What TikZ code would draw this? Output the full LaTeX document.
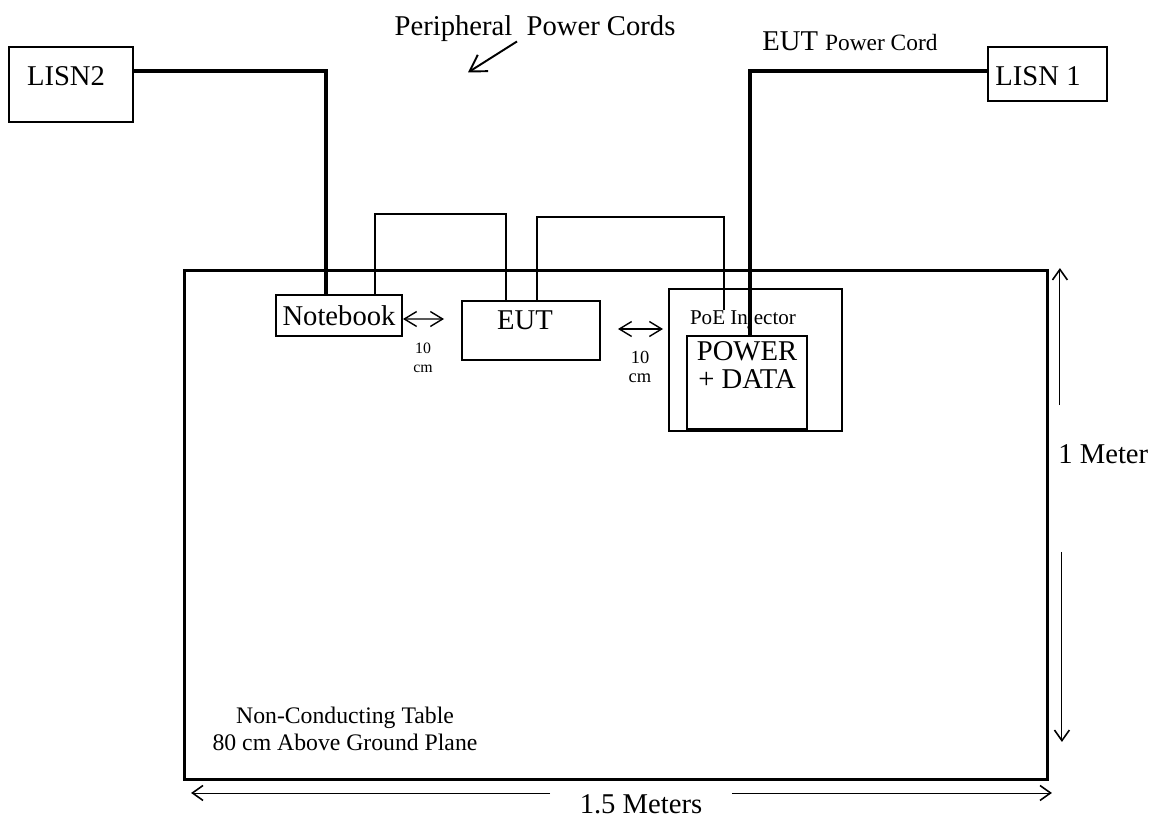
\documentclass[tikz,border=0pt]{standalone}
\usepackage{fontspec}
\setmainfont{Liberation Serif}
\usetikzlibrary{arrows.meta,calc}

\begin{document}
\begin{tikzpicture}[
  x=0.02cm, y=-0.02cm,
  font=\fontsize{16.3}{16.4}\selectfont,
  box/.style={draw, line width=0.6pt, inner sep=0pt, outer sep=0pt},
  txt/.style={inner sep=0pt},
  pcord/.style={line width=1.8pt},
  dcable/.style={line width=1.1pt},
  dim/.style={line width=0.5pt,
              -{Straight Barb[length=6pt,width=8.5pt,line width=0.9pt]}},
  gap/.style={line width=0.6pt,
              {Straight Barb[length=7pt,width=8.5pt,line width=0.8pt]}-{Straight Barb[length=7pt,width=8.5pt,line width=0.8pt]}}
]
\useasboundingbox (0,0) rectangle (1152,818);

%─── Table ────────────────────────────────────────────────────────────────
\node[box, line width=1.7pt, minimum width=17.28cm, minimum height=10.2cm]
  (table) at (616,525) {};
\node[txt, align=center, font=\fontsize{13.5}{15.3}\selectfont]
  at (345,729) {Non-Conducting Table\\80 cm Above Ground Plane};

% dimensions
\draw[dim] ($(table.north east)+(12,135)$) -- ($(table.north east)+(12,-2)$);
\draw[dim] ($(table.south east)+(14,-228)$) -- ($(table.south east)+(14,-38)$);
\node[txt, anchor=base west] (meter) at (1058,463) {1 Meter};
\draw[dim] ($(table.south west)+(366,13)$) -- ($(table.south west)+(7,13)$);
\draw[dim] ($(table.south east)+(-316,13)$) -- ($(table.south east)+(4,13)$);
\node[txt, anchor=base] (meters) at (641,813) {1.5 Meters};

%─── LISNs ────────────────────────────────────────────────────────────────
\node[box, line width=0.9pt, minimum width=2.48cm, minimum height=1.5cm]
  (lisn2) at (71,84.5) {};
\node[txt, anchor=base] at (66,85) {LISN2};
\node[box, line width=1.4pt, minimum width=2.38cm, minimum height=1.08cm]
  (lisn1) at (1047.5,74) {};
\node[txt, anchor=base] at (1038,85) {LISN 1};

\node[txt, anchor=base] (ppc) at (535,35) {Peripheral\ \ Power Cords};
\draw[line width=1.1pt, -{Straight Barb[length=9pt,width=11pt]}]
  ($(ppc.south)+(-18,0)$) -- ++(-49,31);
\node[txt, anchor=base west] (eutpc) at (762,50)
  {EUT {\fontsize{13.3}{13.3}\selectfont Power Cord}};

%─── Devices on the table ─────────────────────────────────────────────────
\node[box, minimum width=2.52cm, minimum height=0.82cm] (nb) at (339,315.5) {Notebook};

\node[box, minimum width=2.76cm, minimum height=1.18cm] (eut) at (531,330.5) {};
\node[txt, anchor=base] at (525,329) {EUT};

\node[box, line width=0.9pt, minimum width=3.46cm, minimum height=2.84cm]
  (poe) at (755.5,360) {};
\node[txt, anchor=base, font=\fontsize{12}{12}\selectfont] (poelbl) at (743,324) {PoE Injector};
\node[box, line width=1.3pt, minimum width=2.4cm, minimum height=1.86cm]
  (pd) at (747,382.5) {};
\node[txt, align=center] at (747,365) {POWER\\+ DATA};

% 10 cm spacings
\draw[gap] ($(nb.east)+(1,3.5)$) -- ($(eut.west)+(-18,-11.5)$);
\node[txt, align=center, font=\fontsize{9}{10.8}\selectfont] at (423,357.5) {10\\cm};
\draw[gap] ($(eut.east)+(18,-1.5)$) -- ($(poe.west)+(-6,-31)$);
\node[txt, align=center, font=\fontsize{10.5}{11.3}\selectfont] at (640,367) {10\\cm};

%─── Cords and cables ─────────────────────────────────────────────────────
\draw[pcord] ($(lisn2.east)+(0,-13.5)$) -| ($(nb.north)+(-13,0)$);
\draw[pcord] ($(lisn1.west)+(0,-3)$) -| ($(pd.north)+(3,0)$);
\draw[dcable] ($(nb.north)+(36,0)$) -- ++(0,-81) -| ($(eut.north)+(-25,0)$);
\draw[dcable] ($(eut.north)+(6,0)$) -- ++(0,-84) -| ($(poelbl.north)+(-19,0)$);

\end{tikzpicture}
\end{document}
